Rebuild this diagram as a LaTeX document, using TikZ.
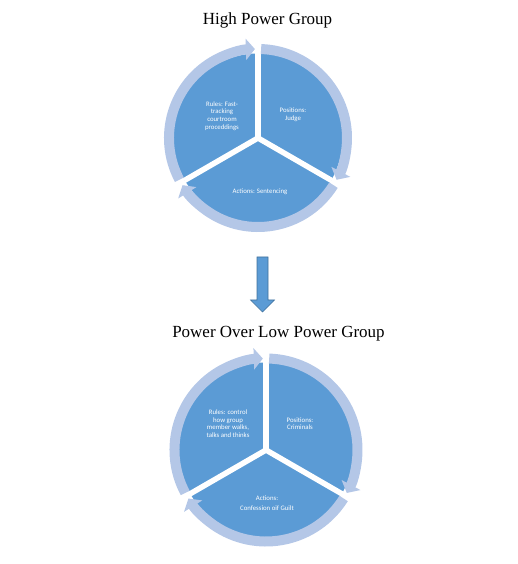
\documentclass[tikz,border=0pt]{standalone}
\usepackage{fontspec}
\setmainfont{Liberation Serif}
\newfontfamily\segfont{Carlito}
\usetikzlibrary{arrows.meta}
\definecolor{pieblue}{RGB}{91,155,213}
\definecolor{ringblue}{RGB}{180,199,231}
\definecolor{edgeblue}{RGB}{65,113,156}
\tikzset{
  seglabel/.style={text=white, font=\segfont\fontsize{6.8}{7.6}\selectfont, align=center, inner sep=0pt},
  grouptitle/.style={font=\fontsize{17}{20}\selectfont, anchor=base, inner sep=0pt},
  ringarrow/.style={ringblue, line width=10pt, -{Triangle[width=21pt,length=9pt]}},
  gapline/.style={white, line width=5.5pt},
}
\begin{document}
\begin{tikzpicture}[x=1pt,y=1pt]
\useasboundingbox (0,0) rectangle (518,564);
% top cycle
\node[grouptitle] (hightitle) at (267.5,539) {High Power Group};
\begin{scope}[shift={(258,426)}]
\fill[pieblue] (0,0) circle [radius=84.5];
\foreach \g in {90,-30,210}
  \draw[gapline] (0,0) -- (\g:85);
\foreach \g in {90,-30,210}
  \draw[ringarrow] ({\g-2}:89) arc [start angle=\g-2, end angle=\g-118, radius=89];
\node[seglabel] (highrules) at (-36,22) {Rules: Fast-\\tracking\\courtroom\\proceddings};
\node[seglabel] (highpos) at (35,23) {Positions:\\Judge};
\node[seglabel] (highact) at (2,-54) {Actions: Sentencing};
\end{scope}
% arrow between
\fill[pieblue, draw=edgeblue, line width=0.6pt] (257,307) -- (268,307) -- (268,264) -- (274.5,264)
  -- (262.5,252) -- (250.5,264) -- (257,264) -- cycle;
% bottom cycle
\node[grouptitle] (lowtitle) at (278.5,226) {Power Over Low Power Group};
\begin{scope}[shift={(266,114)}]
\fill[pieblue] (0,0) circle [radius=87.5];
\foreach \g in {90,-30,210}
  \draw[gapline] (0,0) -- (\g:88);
\foreach \g in {90,-30,210}
  \draw[ringarrow] ({\g-2}:91.5) arc [start angle=\g-2, end angle=\g-118, radius=91.5];
\node[seglabel] (lowrules) at (-38,26.5) {Rules: control\\how group\\member walks,\\talks and thinks};
\node[seglabel] (lowpos) at (34,26.5) {Positions:\\Criminals};
\node[seglabel] (lowact) at (1,-53) {Actions:\\[2.5pt]Confession oif Guilt};
\end{scope}
\end{tikzpicture}
\end{document}
